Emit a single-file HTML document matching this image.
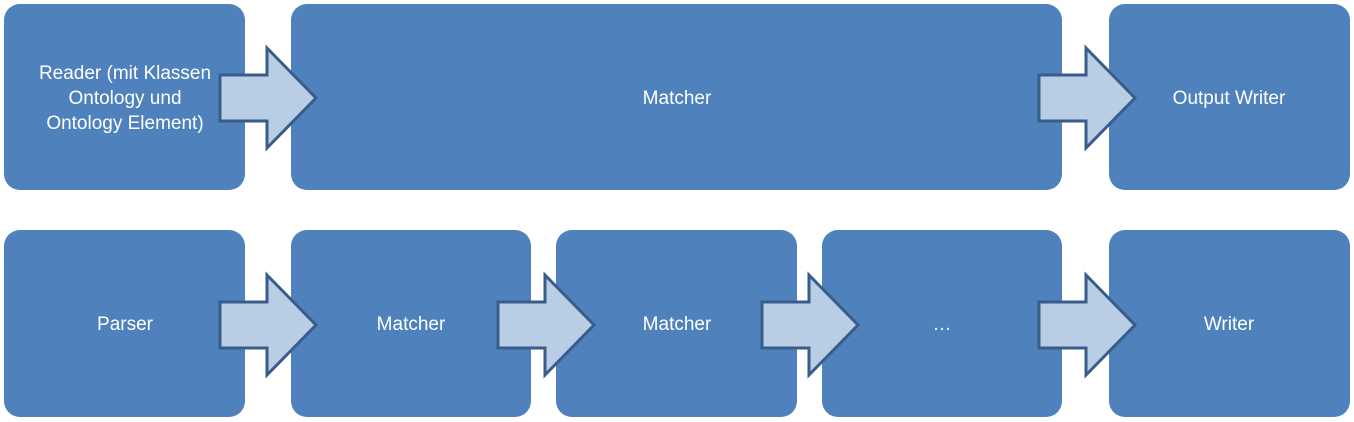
<!DOCTYPE html>
<html><head><meta charset="utf-8"><style>
html,body{margin:0;padding:0;background:#fff;}
svg{display:block;}
text{font-family:"Liberation Sans",sans-serif;font-size:19px;fill:#fff;text-anchor:middle;}
</style></head><body>
<svg width="1354" height="422" viewBox="0 0 1354 422" xmlns="http://www.w3.org/2000/svg">
<defs>
<path id="ar" d="M0,-23 L47,-23 L47,-50 L96,0 L47,50 L47,23 L0,23 Z" fill="#b9cde5" stroke="#385d8a" stroke-width="3" stroke-linejoin="miter"/>
</defs>
<g fill="#4f81bd">
<rect x="4" y="4" width="241" height="186" rx="16"/>
<rect x="291" y="4" width="771" height="186" rx="16"/>
<rect x="1109" y="4" width="241" height="186" rx="16"/>
<rect x="4" y="230" width="241" height="187" rx="16"/>
<rect x="291" y="230" width="240" height="187" rx="16"/>
<rect x="556" y="230" width="241" height="187" rx="16"/>
<rect x="822" y="230" width="240" height="187" rx="16"/>
<rect x="1109" y="230" width="241" height="187" rx="16"/>
</g>
<text x="125" y="79">Reader (mit Klassen</text>
<text x="125" y="104">Ontology und</text>
<text x="125" y="129">Ontology Element)</text>
<text x="677" y="104">Matcher</text>
<text x="1229" y="104">Output Writer</text>
<text x="125" y="330">Parser</text>
<text x="411" y="330">Matcher</text>
<text x="677" y="330">Matcher</text>
<text x="942" y="330">…</text>
<text x="1229" y="330">Writer</text>
<use href="#ar" x="220" y="98"/>
<use href="#ar" x="1039" y="98"/>
<use href="#ar" x="220" y="325"/>
<use href="#ar" x="498" y="325"/>
<use href="#ar" x="762" y="325"/>
<use href="#ar" x="1039" y="325"/>
</svg>
</body></html>
